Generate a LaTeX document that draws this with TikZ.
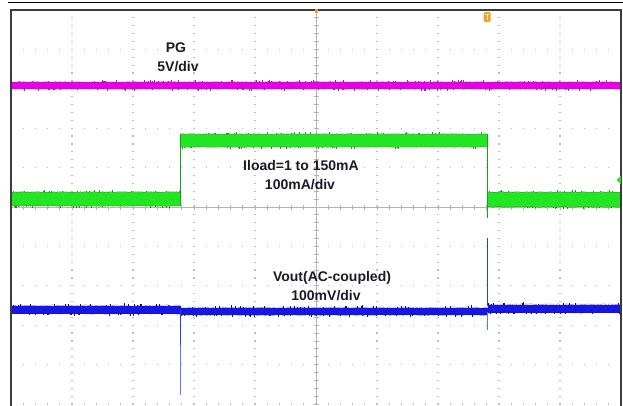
\documentclass[tikz,border=0pt]{standalone}
\usepackage{fontspec}
\setmainfont{Liberation Sans}
\usetikzlibrary{decorations.pathmorphing}
\definecolor{gridc}{HTML}{BCBCBC}
\definecolor{axisc}{HTML}{B4B4B4}
\definecolor{framec}{HTML}{3C3C3C}
\definecolor{pgc}{HTML}{E800E8}
\definecolor{pgdark}{HTML}{8A2A8A}
\definecolor{grc}{HTML}{22E622}
\definecolor{grdark}{HTML}{2A8A2A}
\definecolor{blc}{HTML}{1616E6}
\definecolor{bldark}{HTML}{101070}
\definecolor{spk}{HTML}{5A78FF}
\definecolor{spkdark}{HTML}{2C3CEC}
\definecolor{orng}{HTML}{F4A030}
\definecolor{txtc}{HTML}{1A1A2A}
\newcommand\trband[7]{%
  \fill[#5] (#1,#3) rectangle (#2,#4);
  \draw[#6, line width=0.4, noisy, opacity=0.6] (#1,#3) -- (#2,#3);
  \draw[#6, line width=0.4, noisy, opacity=0.6] (#1,#4) -- (#2,#4);
  \pgfmathtruncatemacro\nn{(#2-#1)/#7}
  \foreach \i in {1,...,\nn}{
    \pgfmathsetmacro\xa{#1+rnd*(#2-#1)}
    \pgfmathsetmacro\la{0.5+rnd*1.6}
    \draw[#6, line width=0.7] (\xa,#3) -- ++(0,-\la);
    \pgfmathsetmacro\xb{#1+rnd*(#2-#1)}
    \pgfmathsetmacro\lb{0.5+rnd*1.6}
    \draw[#6, line width=0.7] (\xb,#4) -- ++(0,\lb);
  }
}
\begin{document}
\begin{tikzpicture}[x=1pt,y=-1pt,
  lbl/.style={text=txtc, font=\fontsize{14}{16}\selectfont\bfseries, inner sep=0pt, anchor=base},
  noisy/.style={decorate, decoration={random steps, segment length=1.6pt, amplitude=0.8pt}},
]
\pgfmathsetseed{7}
\useasboundingbox (0,0) rectangle (623,405);
\fill[white] (0,0) rectangle (623,405);
% grid dots
\foreach \k in {1,2,3,4,6,7,8,9} {
  \foreach \m in {1,...,50} {
    \fill[gridc] ({11+61*\k-0.6},{10+7.88*\m-0.6}) rectangle ++(1.2,1.2);
  }
}
\foreach \j in {1,2,3,4,6,7,8,9,10} {
  \foreach \m in {1,...,49} {
    \fill[gridc] ({11+12.2*\m-0.6},{10+39.4*\j-0.6}) rectangle ++(1.2,1.2);
  }
}
% center axes
\draw[axisc, line width=0.6] (316,10) -- (316,405);
\draw[axisc, line width=0.6] (11,207) -- (621,207);
\foreach \m in {1,...,50} \draw[axisc, line width=0.8] (313.5,{10+7.88*\m}) -- (318.5,{10+7.88*\m});
\foreach \m in {1,...,49} \draw[axisc, line width=0.8] ({11+12.2*\m},204.5) -- ({11+12.2*\m},209.5);
% frame
\draw[framec, line width=2.2] (11,406) -- (11,10) -- (621,10) -- (621,406);
\draw[black, line width=1.8] (8,2.5) -- (623,2.5);
% PG trace
\trband{12}{620}{82}{89}{pgc}{pgdark}{9}
% load current trace
\trband{12}{180.5}{192}{206}{grc}{grdark}{9}
\trband{180.5}{487.5}{134}{147}{grc}{grdark}{9}
\trband{487.5}{620}{192}{207}{grc}{grdark}{9}
\draw[grc!70!black, line width=0.8] (180.5,206) -- (180.5,134);
\draw[grc!70!black, line width=0.8] (487.5,134) -- (487.5,218);
% Vout trace
\trband{12}{180.5}{305.5}{313.5}{blc}{bldark}{8}
\trband{180.5}{487.5}{307.5}{315}{blc}{bldark}{8}
\trband{487.5}{620}{304.5}{312.5}{blc}{bldark}{8}
\draw[spk, line width=0.7] (180.5,310) -- (180.5,395);
\draw[spkdark, line width=1.1] (180.5,310) -- (180.5,345);
\draw[spk, line width=0.7] (487.5,312) -- (487.5,330);
\draw[spkdark, line width=1.1] (487.5,306) -- (487.5,238);
% markers
\fill[orng, rounded corners=1.5] (483.5,12) rectangle (490.5,22);
\draw[yellow!35!white, line width=1] (485,14.2) -- (489,14.2) (487,14.2) -- (487,20);
\fill[orng] (314.5,9) rectangle (317.5,12.5);
\fill[grc] (616.5,180) -- (621,176) -- (621,184) -- cycle;
% labels
\node[lbl] (pg) at (176,52) {PG};
\node[lbl] (pgs) at (178,71) {5V/div};
\node[lbl] (il) at (301,170) {Iload=1 to 150mA};
\node[lbl] (ils) at (300,189) {100mA/div};
\node[lbl] (vo) at (332,281) {Vout(AC-coupled)};
\node[lbl] (vos) at (326,300) {100mV/div};
\end{tikzpicture}
\end{document}
